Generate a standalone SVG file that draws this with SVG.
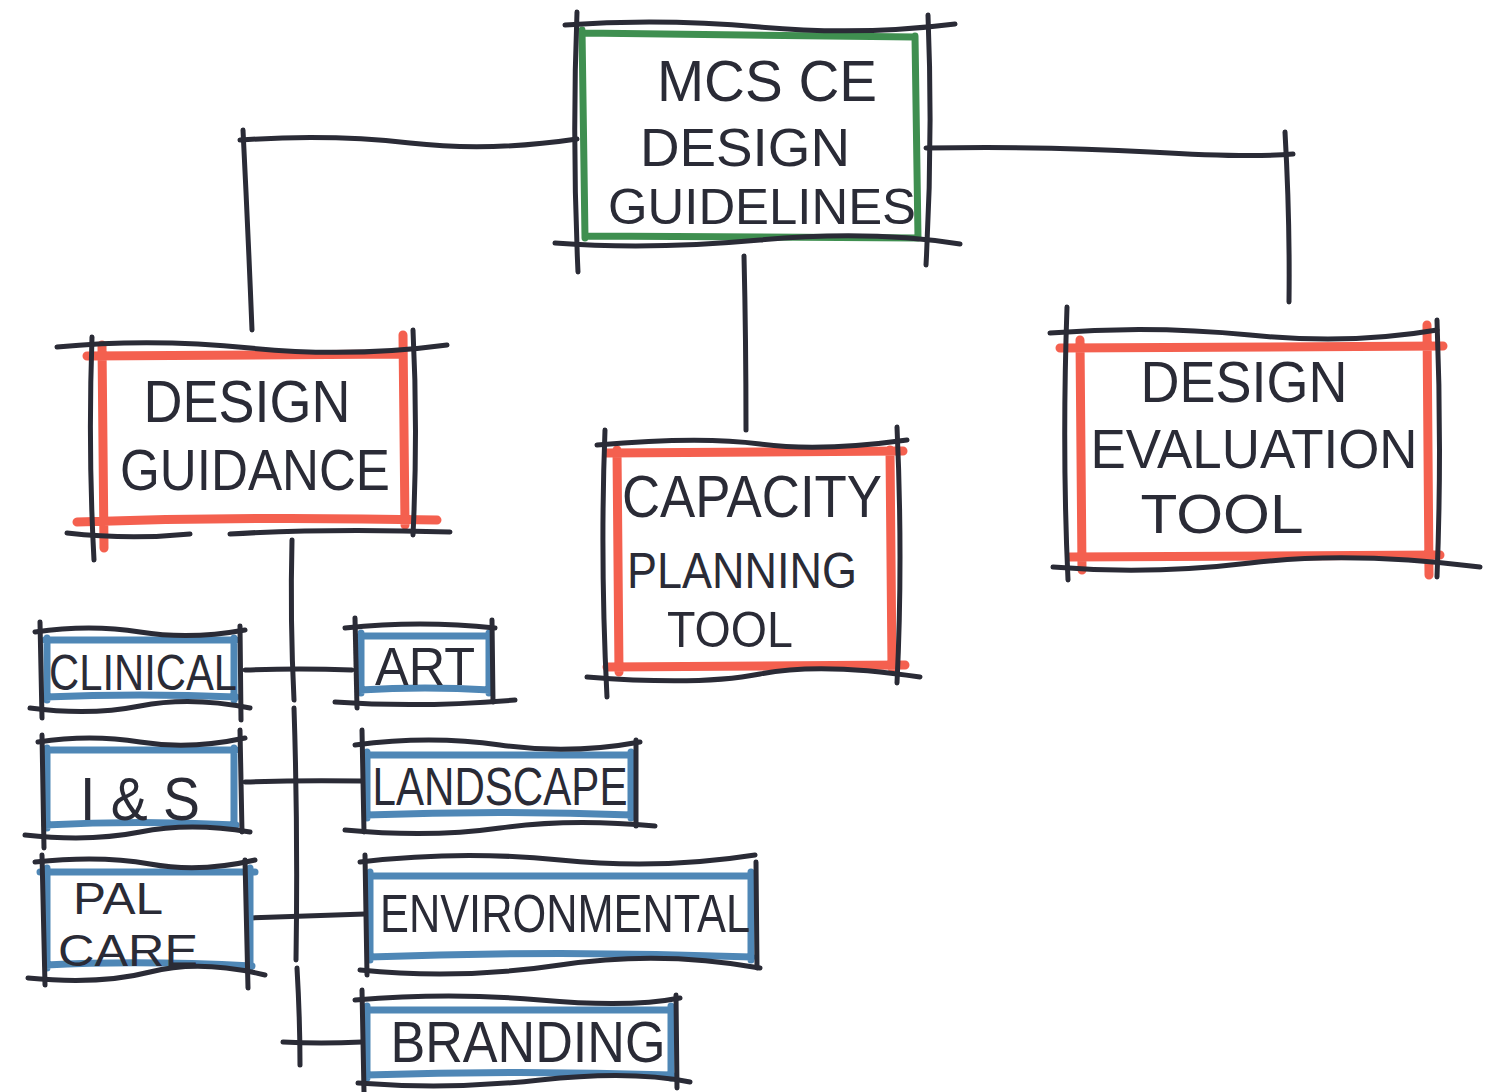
<svg xmlns="http://www.w3.org/2000/svg" width="1487" height="1092" viewBox="0 0 1487 1092">
<style>
.ink{stroke:#2a2b36;stroke-width:5;fill:none;stroke-linecap:round;stroke-linejoin:round}
.green{stroke:#3f8f50;stroke-width:7;fill:none;stroke-linecap:round}
.red{stroke:#f4604f;stroke-width:9;fill:none;stroke-linecap:round}
.blue{stroke:#4f87b6;stroke-width:7;fill:none;stroke-linecap:round}
.t{font-family:"Liberation Sans",Arial,sans-serif;fill:#2a2b36;text-anchor:middle}
</style>
<rect width="1487" height="1092" fill="#ffffff"/>
<g id="connectors" class="ink">
<path d="M240 140 Q330 134 410 143 T577 139"/>
<path d="M243 130 Q248 230 252 330"/>
<path d="M926 148 Q1050 146 1150 152 T1293 154"/>
<path d="M1285 132 Q1290 220 1289 302"/>
<path d="M744 256 Q746 340 746 430"/>
<path d="M292 540 Q290 620 294 700"/>
<path d="M294 708 Q298 830 296 960"/>
<path d="M297 968 Q300 1020 300 1065"/>
<path d="M245 670 Q300 668 352 670"/>
<path d="M245 782 Q300 780 362 781"/>
<path d="M250 918 Q310 916 365 914"/>
<path d="M283 1042 Q320 1044 362 1042"/>
</g>
<g id="n-guidelines">
<path class="green" d="M583 33 L915 37 M915 36 L918 238 M918 238 L585 236 M585 238 L582 30"/>
<path class="ink" d="M565 25 Q660 18 760 27 T955 24"/>
<path class="ink" d="M555 243 Q650 250 760 240 T960 244"/>
<path class="ink" d="M577 12 Q572 140 578 272"/>
<path class="ink" d="M928 15 Q933 140 926 265"/>
<text class="t" x="767" y="101" font-size="58" textLength="220" lengthAdjust="spacingAndGlyphs">MCS CE</text>
<text class="t" x="745" y="166" font-size="54" textLength="210" lengthAdjust="spacingAndGlyphs">DESIGN</text>
<text class="t" x="762" y="224" font-size="50" textLength="308" lengthAdjust="spacingAndGlyphs">GUIDELINES</text>
</g>
<g id="n-guidance">
<path class="red" d="M87 356 L403 354 M77 522 Q250 516 437 520 M102 345 L104 548 M403 335 L405 525"/>
<path class="ink" d="M57 347 Q150 338 250 348 T447 345"/>
<path class="ink" d="M67 533 Q130 540 190 534 M230 534 Q330 528 450 532"/>
<path class="ink" d="M92 337 Q88 450 94 560"/>
<path class="ink" d="M413 330 Q418 430 413 535"/>
<text class="t" x="247" y="422" font-size="60" textLength="207" lengthAdjust="spacingAndGlyphs">DESIGN</text>
<text class="t" x="255" y="490" font-size="58" textLength="270" lengthAdjust="spacingAndGlyphs">GUIDANCE</text>
</g>
<g id="n-capacity">
<path class="red" d="M607 453 L903 451 M607 667 L905 665 M617 450 L619 672 M890 450 L892 668"/>
<path class="ink" d="M597 445 Q700 436 760 444 T907 440"/>
<path class="ink" d="M587 677 Q700 686 760 674 T920 677"/>
<path class="ink" d="M605 430 Q600 560 607 697"/>
<path class="ink" d="M897 427 Q903 560 897 683"/>
<text class="t" x="752" y="517" font-size="60" textLength="260" lengthAdjust="spacingAndGlyphs">CAPACITY</text>
<text class="t" x="742" y="588" font-size="50" textLength="230" lengthAdjust="spacingAndGlyphs">PLANNING</text>
<text class="t" x="730" y="647" font-size="50" textLength="126" lengthAdjust="spacingAndGlyphs">TOOL</text>
</g>
<g id="n-evaluation">
<path class="red" d="M1060 348 L1443 346 M1070 557 L1440 555 M1080 340 L1082 570 M1427 325 L1429 575"/>
<path class="ink" d="M1050 333 Q1150 325 1250 335 T1437 330"/>
<path class="ink" d="M1053 567 Q1150 575 1250 563 T1480 567"/>
<path class="ink" d="M1067 307 Q1062 450 1068 580"/>
<path class="ink" d="M1437 320 Q1442 450 1437 577"/>
<text class="t" x="1244" y="402" font-size="58" textLength="207" lengthAdjust="spacingAndGlyphs">DESIGN</text>
<text class="t" x="1254" y="468" font-size="56" textLength="327" lengthAdjust="spacingAndGlyphs">EVALUATION</text>
<text class="t" x="1222" y="533" font-size="56" textLength="163" lengthAdjust="spacingAndGlyphs">TOOL</text>
</g>
<g id="n-clinical">
<path class="blue" d="M45 640 L236 640 M45 697 Q140 693 236 697 M47 638 L47 700 M234 638 L234 700"/>
<path class="ink" d="M35 632 Q90 624 140 632 T245 630"/>
<path class="ink" d="M30 708 Q90 716 140 706 T250 708"/>
<path class="ink" d="M40 622 L42 718"/>
<path class="ink" d="M240 626 L241 720"/>
<text class="t" x="143" y="690" font-size="50" textLength="188" lengthAdjust="spacingAndGlyphs">CLINICAL</text>
</g>
<g id="n-is">
<path class="blue" d="M45 750 L236 750 M45 825 Q140 820 236 825 M47 748 L47 828 M234 748 L234 828"/>
<path class="ink" d="M38 742 Q90 734 140 742 T245 738"/>
<path class="ink" d="M25 835 Q90 842 140 832 T250 832"/>
<path class="ink" d="M42 735 L44 848"/>
<path class="ink" d="M240 730 L242 832"/>
<text class="t" x="140" y="820" font-size="62" textLength="120" lengthAdjust="spacingAndGlyphs">I &amp; S</text>
</g>
<g id="n-palcare">
<path class="blue" d="M40 872 L255 872 M46 965 Q140 960 252 966 M47 868 L47 968 M250 868 L250 968"/>
<path class="ink" d="M35 862 Q100 855 150 864 T255 860"/>
<path class="ink" d="M28 978 Q100 985 150 972 T265 975"/>
<path class="ink" d="M42 855 L45 985"/>
<path class="ink" d="M245 860 L248 988"/>
<text class="t" x="118" y="914" font-size="44" textLength="90" lengthAdjust="spacingAndGlyphs">PAL</text>
<text class="t" x="128" y="966" font-size="44" textLength="140" lengthAdjust="spacingAndGlyphs">CARE</text>
</g>
<g id="n-art">
<path class="blue" d="M360 636 L490 636 M360 690 Q425 686 490 690 M361 633 L361 693 M489 633 L489 693"/>
<path class="ink" d="M345 628 Q420 620 495 628"/>
<path class="ink" d="M335 702 Q420 708 515 700"/>
<path class="ink" d="M355 618 L357 708"/>
<path class="ink" d="M492 620 L493 702"/>
<text class="t" x="425" y="685" font-size="54" textLength="100" lengthAdjust="spacingAndGlyphs">ART</text>
</g>
<g id="n-landscape">
<path class="blue" d="M366 755 L632 755 M366 815 Q500 810 632 815 M367 752 L367 818 M631 752 L631 818"/>
<path class="ink" d="M355 745 Q430 735 500 745 T640 742"/>
<path class="ink" d="M345 830 Q430 838 500 828 T655 826"/>
<path class="ink" d="M362 730 L364 832"/>
<path class="ink" d="M636 740 L636 826"/>
<text class="t" x="500" y="805" font-size="54" textLength="255" lengthAdjust="spacingAndGlyphs">LANDSCAPE</text>
</g>
<g id="n-environmental">
<path class="blue" d="M369 876 L752 876 M369 957 Q560 950 752 957 M370 872 L370 960 M751 872 L751 960"/>
<path class="ink" d="M360 862 Q460 850 560 860 T755 855"/>
<path class="ink" d="M360 970 Q460 980 560 965 T760 968"/>
<path class="ink" d="M365 855 L367 975"/>
<path class="ink" d="M756 862 L757 968"/>
<text class="t" x="565" y="932" font-size="54" textLength="370" lengthAdjust="spacingAndGlyphs">ENVIRONMENTAL</text>
</g>
<g id="n-branding">
<path class="blue" d="M366 1010 L672 1010 M366 1075 Q520 1070 672 1075 M367 1006 L367 1078 M671 1006 L671 1078"/>
<path class="ink" d="M355 1000 Q450 992 540 1000 T680 998"/>
<path class="ink" d="M358 1083 Q450 1090 540 1080 T690 1082"/>
<path class="ink" d="M362 990 L364 1092"/>
<path class="ink" d="M676 995 L677 1088"/>
<text class="t" x="528" y="1062" font-size="58" textLength="275" lengthAdjust="spacingAndGlyphs">BRANDING</text>
</g>
</svg>
